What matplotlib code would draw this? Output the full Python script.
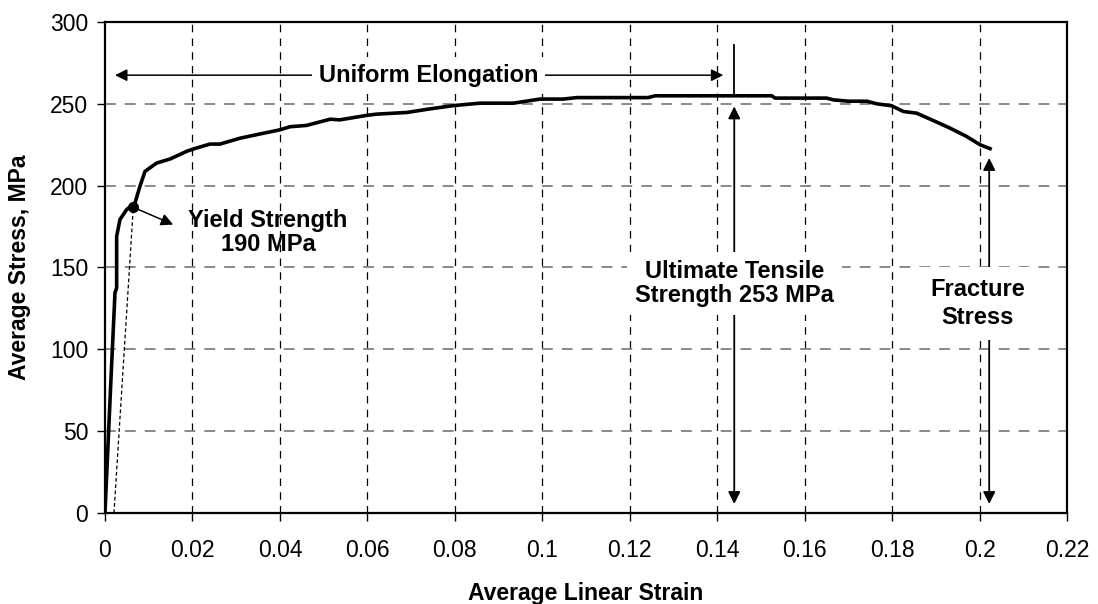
import numpy as np
import matplotlib
matplotlib.use("Agg")
import matplotlib.pyplot as plt
from matplotlib.ticker import FuncFormatter

plt.rcParams['font.family'] = ['Liberation Sans', 'DejaVu Sans']

# stress-strain curve
strain = [0, 0.00137, 0.00229, 0.00267, 0.00267, 0.00343, 0.00496, 0.00686, 0.0080,
          0.00915, 0.0118, 0.0149, 0.0187, 0.0202, 0.024, 0.0263, 0.0309, 0.0362,
          0.040, 0.0423, 0.0461, 0.0515, 0.0537, 0.0598, 0.0621, 0.069, 0.0743,
          0.0797, 0.0858, 0.0934, 0.0995, 0.1048, 0.1079, 0.1242, 0.1258, 0.1525,
          0.1532, 0.165, 0.1666, 0.170, 0.1742, 0.1765, 0.1799, 0.1826, 0.1856,
          0.1894, 0.1932, 0.197, 0.2001, 0.2024]
stress = [0, 81.7, 134.6, 137.6, 169, 179.3, 185.4, 189.4, 199.6,
          208.7, 213.8, 216.3, 221, 222.4, 225.4, 225.4, 229, 232,
          234.1, 236, 236.8, 240.6, 240.2, 242.9, 243.7, 244.7, 246.9,
          248.9, 250.4, 250.4, 252.9, 252.9, 253.8, 253.8, 254.9, 254.9,
          253.5, 253.5, 252.4, 251.6, 251.6, 250, 248.8, 245.3, 244.3,
          239.8, 235.2, 230.1, 225, 222.6]

# annotation points
yield_pt = (0.00648, 186.8)
offset_start = (0.00206, 0)
uts_x = 0.1439
fracture_x = 0.2022
elong_y = 267.5

xticks = [0, 0.02, 0.04, 0.06, 0.08, 0.1, 0.12, 0.14, 0.16, 0.18, 0.2, 0.22]
yticks = [0, 50, 100, 150, 200, 250, 300]

fig = plt.figure(figsize=(10.98, 6.04), dpi=100)
ax = fig.add_axes([0.0956, 0.1507, 0.8762, 0.8129])

ax.set_xlim(0, 0.22)
ax.set_ylim(0, 300)
ax.set_xticks(xticks)
ax.set_yticks(yticks)
ax.xaxis.set_major_formatter(FuncFormatter(lambda v, p: "%g" % v))
ax.tick_params(direction="out", length=6, width=1, labelsize=16.5, pad=6)
ax.tick_params(axis="x", pad=13)
for s in ax.spines.values():
    s.set_linewidth(1.6)

for xv in xticks[1:-1]:
    ax.axvline(xv, color="black", lw=0.9, dashes=(6, 5), zorder=1)
for yv in yticks[1:-1]:
    ax.axhline(yv, color="#808080", lw=1.3, dashes=(6, 5), zorder=1)

ax.plot(strain, stress, color="black", lw=2.6, zorder=4, solid_joinstyle="round")

# offset line and yield point
ax.plot([offset_start[0], yield_pt[0]], [offset_start[1], yield_pt[1]],
        color="black", lw=0.9, dashes=(3, 2), zorder=3)
ax.plot(*yield_pt, "o", color="black", ms=7, zorder=5)
ax.annotate("", xy=(0.0156, 176.2), xytext=yield_pt,
            arrowprops=dict(arrowstyle="-|>", color="black", lw=1.1,
                            mutation_scale=18, shrinkA=0, shrinkB=0), zorder=5)
ax.text(0.0373, 171.5, "Yield Strength\n190 MPa", ha="center", va="center",
        fontsize=17, fontweight="bold", linespacing=1.05, zorder=6)

# uniform elongation
ax.annotate("", xy=(0.0023, elong_y), xytext=(0.1414, elong_y),
            arrowprops=dict(arrowstyle="<|-|>", color="black", lw=1.1,
                            mutation_scale=18, shrinkA=0, shrinkB=0), zorder=5)
ax.text(0.074, elong_y, "Uniform Elongation", ha="center", va="center",
        fontsize=17, fontweight="bold", zorder=6,
        bbox=dict(facecolor="white", edgecolor="none", pad=5))

# ultimate tensile strength
ax.plot([uts_x, uts_x], [254.9, 286], color="black", lw=1.3, zorder=3)
ax.annotate("", xy=(uts_x, 248.4), xytext=(uts_x, 5.5),
            arrowprops=dict(arrowstyle="<|-|>", color="black", lw=1.3,
                            mutation_scale=18, shrinkA=0, shrinkB=0), zorder=5)
ax.text(uts_x, 140.2, "Ultimate Tensile\nStrength 253 MPa", ha="center", va="center",
        fontsize=17, fontweight="bold", linespacing=1.05, zorder=6,
        bbox=dict(facecolor="white", edgecolor="none", pad=6))

# fracture stress
ax.annotate("", xy=(fracture_x, 216.9), xytext=(fracture_x, 5.5),
            arrowprops=dict(arrowstyle="<|-|>", color="black", lw=1.3,
                            mutation_scale=18, shrinkA=0, shrinkB=0), zorder=5)
ax.text(0.1996, 128, "Fracture\nStress", ha="center", va="center",
        fontsize=17, fontweight="bold", linespacing=1.3, zorder=6,
        bbox=dict(facecolor="white", edgecolor="none", pad=8))

ax.set_xlabel("Average Linear Strain", fontsize=16.5, fontweight="bold", labelpad=14)
ax.set_ylabel("Average Stress, MPa", fontsize=16.5, fontweight="bold", labelpad=14)

fig.savefig("out.png", dpi=100)
